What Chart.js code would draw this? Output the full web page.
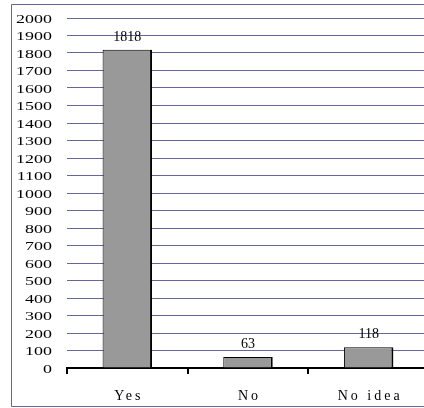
<!DOCTYPE html>
<html>
<head>
<meta charset="utf-8">
<script src="https://cdn.jsdelivr.net/npm/chart.js@4/dist/chart.umd.min.js"></script>
<style>
    html, body { margin: 0; padding: 0; background: #fff; overflow: hidden; }
    #wrap { width: 424px; height: 408px; overflow: hidden; }
    canvas { display: block; }
</style>
</head>
<body>
<div id="wrap"><canvas id="answersChart" width="432" height="408"></canvas></div>
<script>
// Chart data
const categories = ['Yes', 'No', 'No idea'];
const answerCounts = [1818, 63, 118];
const yTickMax = 2000;
const yTickStep = 100;

const frameColor = '#666699';
const labelFont = '13px "Liberation Serif", "Times New Roman", serif';
const stretchX = 1.38;   // the original y labels are drawn wide

Chart.defaults.font.family = '"Liberation Serif", "Times New Roman", serif';
Chart.defaults.font.size = 13;
Chart.defaults.color = '#000';

// Draw text stretched horizontally, anchored at (x, y)
function wideText(ctx, text, x, y, align) {
    ctx.save();
    ctx.translate(x, y);
    ctx.scale(stretchX, 1);
    ctx.textAlign = align;
    ctx.fillText(text, 0, 0);
    ctx.restore();
}

// Axis labels, placed from the chart's own scales
const axisLabelPlugin = {
    id: 'axisLabels',
    afterDraw(chart) {
        const ctx = chart.ctx;
        const xs = chart.scales.x;
        const ys = chart.scales.y;
        ctx.save();
        ctx.font = labelFont;
        ctx.fillStyle = '#000';
        ctx.textBaseline = 'alphabetic';
        ys.ticks.forEach((t) => {
            wideText(ctx, String(t.value), 52, ys.getPixelForValue(t.value) + 4.5, 'right');
        });
        // category labels are letter-spaced rather than stretched
        ctx.font = '14px "Liberation Serif", "Times New Roman", serif';
        ctx.letterSpacing = '3px';
        ctx.textAlign = 'center';
        categories.forEach((c, i) => {
            ctx.fillText(c, xs.getPixelForTick(i) + 1.5, 400);
        });
        ctx.restore();
    }
};

// Outer frame (right edge is cut off in the original)
const framePlugin = {
    id: 'frame',
    afterDraw(chart) {
        const ctx = chart.ctx;
        ctx.save();
        ctx.strokeStyle = frameColor;
        ctx.lineWidth = 1;
        ctx.beginPath();
        ctx.moveTo(chart.width, 4.5);
        ctx.lineTo(11.5, 4.5);
        ctx.lineTo(11.5, 406.5);
        ctx.lineTo(chart.width, 406.5);
        ctx.stroke();
        ctx.restore();
    }
};

// Value labels above bars
const valueLabelPlugin = {
    id: 'valueLabels',
    afterDatasetsDraw(chart) {
        const ctx = chart.ctx;
        const meta = chart.getDatasetMeta(0);
        ctx.save();
        ctx.font = '14px "Liberation Serif", serif';
        ctx.fillStyle = '#000';
        ctx.textAlign = 'center';
        ctx.textBaseline = 'middle';
        meta.data.forEach((bar, i) => {
            ctx.fillText(String(answerCounts[i]), bar.x, bar.y - 13);
        });
        ctx.restore();
    }
};

new Chart(document.getElementById('answersChart'), {
    type: 'bar',
    data: {
        labels: categories,
        datasets: [{
            data: answerCounts,
            backgroundColor: '#999999',
            borderColor: '#000',
            borderWidth: { top: 1, left: 1, right: 2, bottom: 0 },
            borderSkipped: false,
            categoryPercentage: 1,
            barPercentage: 0.41
        }]
    },
    options: {
        responsive: false,
        animation: false,
        layout: { padding: { top: 18, right: 3, left: 0, bottom: 0 } },
        plugins: {
            legend: { display: false },
            tooltip: { enabled: false }
        },
        scales: {
            x: {
                grid: {
                    offset: true,
                    drawOnChartArea: false,
                    color: '#000',
                    lineWidth: 2,
                    tickLength: 6
                },
                border: { color: '#000', width: 2 },
                ticks: { display: false },
                afterFit(scale) { scale.height = 40; }
            },
            y: {
                min: 0,
                max: yTickMax,
                ticks: { stepSize: yTickStep, display: false, autoSkip: false },
                grid: { color: frameColor, lineWidth: 1, drawTicks: false },
                border: { display: false },
                afterFit(scale) { scale.width = 67; }
            }
        }
    },
    plugins: [framePlugin, valueLabelPlugin, axisLabelPlugin]
});
</script>
</body>
</html>
